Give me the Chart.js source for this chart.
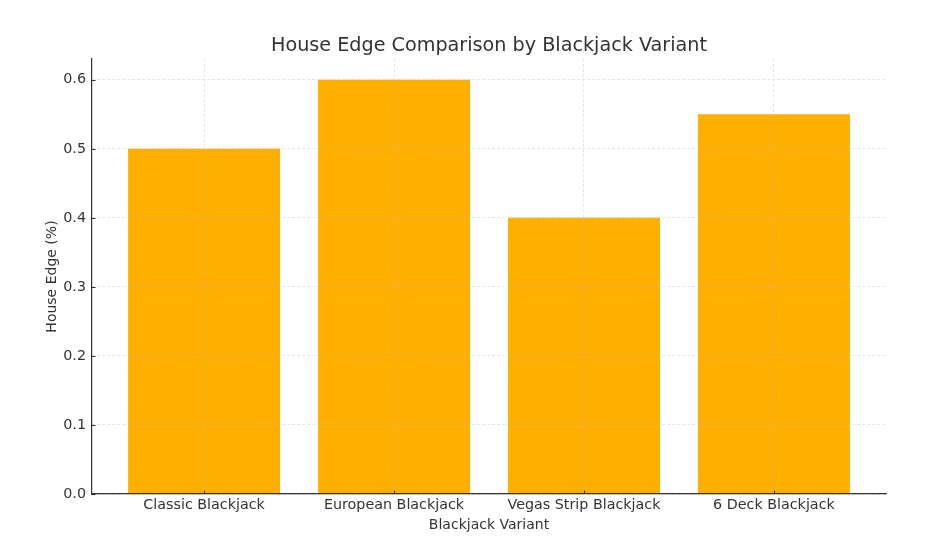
<!DOCTYPE html>
<html>
<head>
<meta charset="utf-8">
<title>House Edge Comparison by Blackjack Variant</title>
<script src="https://cdn.jsdelivr.net/npm/chart.js@4.4.1/dist/chart.umd.min.js"></script>
<style>
    html, body { margin: 0; padding: 0; background: #ffffff; }
    #wrap { width: 940px; height: 542px; position: relative; }
</style>
</head>
<body>
<div id="wrap"><canvas id="myChart"></canvas></div>
<script>
// Données du graphique
const variantes = ["Classic Blackjack", "European Blackjack", "Vegas Strip Blackjack", "6 Deck Blackjack"];
const avantageMaison = [0.5, 0.6, 0.4, 0.55];
const yTicks = [0.0, 0.1, 0.2, 0.3, 0.4, 0.5, 0.6];

const police = "'DejaVu Sans', sans-serif";
const couleurTexte = "#333333";
const couleurGrille = "rgba(190, 190, 190, 0.5)";

// petites graduations tournées vers l'intérieur, comme matplotlib
const graduationsInternes = {
    id: "graduationsInternes",
    afterDraw(chart) {
        const ctx = chart.ctx;
        const area = chart.chartArea;
        const x = chart.scales.x;
        const y = chart.scales.y;
        ctx.save();
        ctx.strokeStyle = "#333333";
        ctx.lineWidth = 1;
        ctx.beginPath();
        yTicks.forEach(v => {
            const py = Math.round(y.getPixelForValue(v)) + 0.5;
            ctx.moveTo(area.left, py);
            ctx.lineTo(area.left + 3.5, py);
        });
        variantes.forEach((_, i) => {
            const px = Math.round(x.getPixelForValue(i)) + 0.5;
            ctx.moveTo(px, area.bottom);
            ctx.lineTo(px, area.bottom - 3.5);
        });
        ctx.stroke();
        ctx.restore();
    }
};

new Chart(document.getElementById("myChart"), {
    type: "bar",
    data: {
        datasets: [{
            label: "House Edge (%)",
            data: variantes.map((v, i) => ({ x: i, y: avantageMaison[i] })),
            backgroundColor: "#ffaf00",
            borderWidth: 0,
            barPercentage: 0.8,
            categoryPercentage: 1.0
        }]
    },
    options: {
        responsive: true,
        maintainAspectRatio: false,
        animation: false,
        layout: { padding: { left: 0, right: 54, top: 0, bottom: 8.5 } },
        plugins: {
            legend: { display: false },
            tooltip: { enabled: false },
            title: {
                display: true,
                fullSize: false,
                text: "House Edge Comparison by Blackjack Variant",
                color: couleurTexte,
                font: { family: police, size: 19.2, weight: "normal" },
                padding: { top: 34.5, bottom: 1.5 }
            }
        },
        scales: {
            x: {
                type: "linear",
                min: -0.59,
                max: 3.59,
                offset: false,
                afterFit: scale => { scale.height = 39.5; },
                afterBuildTicks: scale => {
                    scale.ticks = variantes.map((_, i) => ({ value: i }));
                },
                ticks: {
                    color: couleurTexte,
                    font: { family: police, size: 14.3 },
                    padding: 3,
                    maxRotation: 0,
                    autoSkip: false,
                    callback: value => variantes[value]
                },
                // grille dessinée par-dessus les barres
                grid: { color: couleurGrille, lineWidth: 0.8, drawTicks: false, offset: false, z: 1 },
                border: { display: true, color: "#333333", width: 1.2, dash: [3, 2], z: 2 },
                title: {
                    display: true,
                    text: "Blackjack Variant",
                    color: couleurTexte,
                    font: { family: police, size: 14 },
                    padding: { top: 0, bottom: 0 }
                }
            },
            y: {
                min: 0,
                max: 0.63,
                afterFit: scale => { scale.width = 92; },
                afterBuildTicks: scale => {
                    scale.ticks = yTicks.map(v => ({ value: v }));
                },
                ticks: {
                    color: couleurTexte,
                    font: { family: police, size: 14.3 },
                    padding: 6,
                    callback: value => value.toFixed(1)
                },
                grid: { color: couleurGrille, lineWidth: 0.8, drawTicks: false, z: 1 },
                border: { display: true, color: "#333333", width: 1.2, dash: [3, 2], z: 2 },
                title: {
                    display: true,
                    text: "House Edge (%)",
                    color: couleurTexte,
                    font: { family: police, size: 14 },
                    padding: { top: 43.6, bottom: 0 }
                }
            }
        }
    },
    plugins: [graduationsInternes]
});
</script>
</body>
</html>
